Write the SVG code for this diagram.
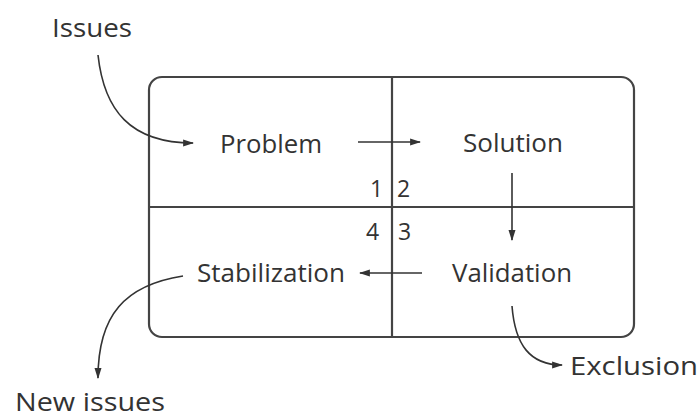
<svg xmlns="http://www.w3.org/2000/svg" width="699" height="417" viewBox="0 0 699 417">
<defs>
<marker id="ah" viewBox="0 0 10 10" refX="9" refY="5" markerWidth="11" markerHeight="11" markerUnits="userSpaceOnUse" orient="auto">
<path d="M0,1.8 L10,5 L0,8.2 z" fill="#333"/>
</marker>
<style>
text{font-family:"Open Sans","Noto Sans",sans-serif;font-size:25px;fill:#333}
.num{font-size:23px}
.ln{fill:none;stroke:#333;stroke-width:1.6}
.frame{fill:none;stroke:#444;stroke-width:2.2}
</style>
</defs>
<rect width="699" height="417" fill="#fff"/>
<g id="frame">
<rect class="frame" x="149" y="77" width="485" height="260" rx="13"/>
<line class="frame" x1="392" y1="77" x2="392" y2="337"/>
<line class="frame" x1="149" y1="207" x2="634" y2="207"/>
</g>
<g id="issues"><text x="52" y="37" textLength="80" lengthAdjust="spacingAndGlyphs">Issues</text></g>
<g id="problem"><text x="220" y="153" textLength="102" lengthAdjust="spacingAndGlyphs">Problem</text></g>
<g id="solution"><text x="463" y="152" textLength="100" lengthAdjust="spacingAndGlyphs">Solution</text></g>
<g id="stabilization"><text x="197" y="282" textLength="148" lengthAdjust="spacingAndGlyphs">Stabilization</text></g>
<g id="validation"><text x="452" y="282" textLength="120" lengthAdjust="spacingAndGlyphs">Validation</text></g>
<g id="exclusion"><text x="570" y="375" textLength="128" lengthAdjust="spacingAndGlyphs">Exclusion</text></g>
<g id="newissues"><text x="15" y="411" font-size="24" textLength="150" lengthAdjust="spacingAndGlyphs">New issues</text></g>
<g id="quadrants">
<text class="num" x="370" y="197">1</text>
<text class="num" x="397" y="197">2</text>
<text class="num" x="366" y="240">4</text>
<text class="num" x="398" y="240">3</text>
</g>
<g id="connectors">
<path class="ln" d="M98,55 C104,110 130,143 193,143" marker-end="url(#ah)"/>
<path class="ln" d="M358,142 L420,142" marker-end="url(#ah)"/>
<path class="ln" d="M512,173 L512,240" marker-end="url(#ah)"/>
<path class="ln" d="M422,273 L360,273" marker-end="url(#ah)"/>
<path class="ln" d="M512,306 C515,345 530,365 562,365" marker-end="url(#ah)"/>
<path class="ln" d="M183,276 C125,285 98,315 98,378" marker-end="url(#ah)"/>
</g>
</svg>
